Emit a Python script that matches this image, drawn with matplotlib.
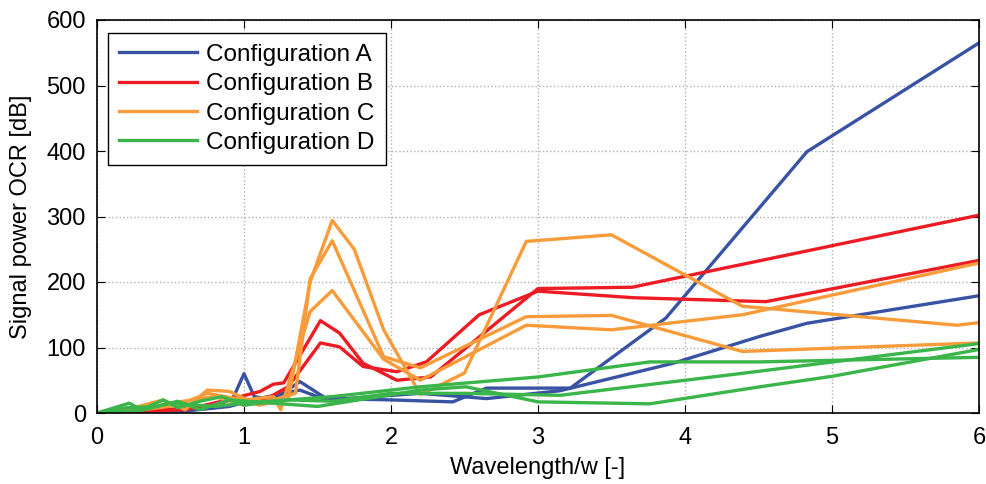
import matplotlib
matplotlib.use('Agg')
import matplotlib.pyplot as plt

plt.rcParams['font.family'] = ['Liberation Sans', 'DejaVu Sans']

# Configuration A
a1_x = [0, 0.2, 0.4, 0.6, 0.8, 0.93, 1.0, 1.07, 1.2, 1.38, 1.56, 2.0, 2.42, 2.65, 3.22, 3.87, 4.83, 6.0]
a1_y = [0, 3, 6, 5, 8, 25, 60, 25, 20, 48, 22, 20, 17, 38, 38, 145, 399, 565]
a2_x = [0, 0.3, 0.6, 0.9, 1.1, 1.38, 1.56, 2.2, 2.65, 3.15, 3.92, 4.51, 4.83, 6.0]
a2_y = [0, 4, 3, 10, 22, 35, 20, 30, 22, 34, 76, 117, 137, 179]

# Configuration B
b1_x = [0, 0.3, 0.6, 0.89, 1.11, 1.2, 1.27, 1.52, 1.65, 1.81, 2.04, 2.27, 3.0, 3.64, 6.0]
b1_y = [0, 3, 5, 20, 33, 44, 46, 141, 122, 76, 50, 55, 190, 192, 302]
b2_x = [0, 0.4, 0.7, 0.95, 1.1, 1.3, 1.52, 1.65, 1.81, 2.04, 2.24, 2.6, 3.0, 3.65, 4.55, 6.0]
b2_y = [0, 4, 8, 22, 15, 40, 107, 101, 71, 63, 78, 150, 186, 176, 170, 233]

# Configuration C
c1_x = [0, 0.25, 0.45, 0.6, 0.75, 0.9, 1.1, 1.3, 1.45, 1.6, 1.75, 1.95, 2.2, 2.5, 2.92, 3.5, 4.39, 5.85, 6.0]
c1_y = [0, 8, 20, 5, 35, 33, 12, 20, 200, 294, 250, 127, 28, 61, 262, 272, 163, 134, 138]
c2_x = [0, 0.3, 0.5, 0.8, 1.0, 1.2, 1.35, 1.45, 1.6, 1.95, 2.2, 2.92, 3.5, 4.39, 6.0]
c2_y = [0, 5, 15, 25, 12, 20, 30, 205, 263, 86, 69, 147, 149, 94, 107]
c3_x = [0, 0.35, 0.55, 0.75, 1.0, 1.2, 1.25, 1.45, 1.6, 1.95, 2.2, 2.92, 3.5, 4.39, 6.0]
c3_y = [0, 6, 12, 30, 20, 25, 5, 155, 187, 82, 50, 134, 127, 150, 229]

# Configuration D
d1_x = [0, 0.22, 0.3, 0.45, 0.55, 0.7, 0.85, 1.0, 1.3, 1.6, 2.2, 3.0, 3.76, 4.5, 6.0]
d1_y = [0, 15, 5, 20, 8, 18, 25, 12, 20, 25, 40, 55, 78, 78, 85]
d2_x = [0, 0.2, 0.4, 0.55, 0.7, 0.9, 1.2, 1.5, 2.2, 2.51, 3.0, 3.76, 4.51, 5.0, 6.0]
d2_y = [0, 8, 10, 18, 5, 20, 15, 10, 35, 40, 17, 14, 40, 56, 97]
d3_x = [0, 0.3, 0.5, 0.8, 1.0, 1.3, 1.6, 2.0, 2.5, 3.15, 4.37, 6.0]
d3_y = [0, 4, 15, 10, 15, 20, 18, 30, 30, 27, 60, 106]

blue = '#3953a4'
red = '#ed1c24'
orange = '#f89b3a'
green = '#3ab54a'
lw = 2.4

fig = plt.figure(figsize=(9.87, 4.84), dpi=100)
ax = fig.add_axes([97/987, 1-413/484, 882/987, 393/484])

ax.plot(a1_x, a1_y, color=blue, lw=lw, label='Configuration A')
ax.plot(a2_x, a2_y, color=blue, lw=lw)
ax.plot(b1_x, b1_y, color=red, lw=lw, label='Configuration B')
ax.plot(b2_x, b2_y, color=red, lw=lw)
ax.plot(c1_x, c1_y, color=orange, lw=lw, label='Configuration C')
ax.plot(c2_x, c2_y, color=orange, lw=lw)
ax.plot(c3_x, c3_y, color=orange, lw=lw)
ax.plot(d1_x, d1_y, color=green, lw=lw, label='Configuration D')
ax.plot(d2_x, d2_y, color=green, lw=lw)
ax.plot(d3_x, d3_y, color=green, lw=lw)

ax.set_xlim(0, 6)
ax.set_ylim(0, 600)
ax.set_xticks(range(0, 7))
ax.set_yticks(range(0, 601, 100))
ax.grid(True, linestyle=':', color='#b0b0b0', lw=1)
ax.tick_params(direction='in', top=True, right=True, labelsize=17, length=6, pad=8)
ax.tick_params(axis='x', pad=10)
ax.set_xlabel('Wavelength/w [-]', fontsize=17, labelpad=6)
ax.set_ylabel('Signal power OCR [dB]', fontsize=17, labelpad=10)
for s in ax.spines.values():
    s.set_linewidth(1.2)

leg = ax.legend(loc='upper left', fontsize=17.5, handlelength=3.2, fancybox=False,
                framealpha=1, edgecolor='black', borderpad=0.45, labelspacing=0.3,
                handletextpad=0.4, bbox_to_anchor=(0.0125, 0.967), borderaxespad=0)
leg.get_frame().set_linewidth(1.0)

fig.savefig('out.png', dpi=100)
